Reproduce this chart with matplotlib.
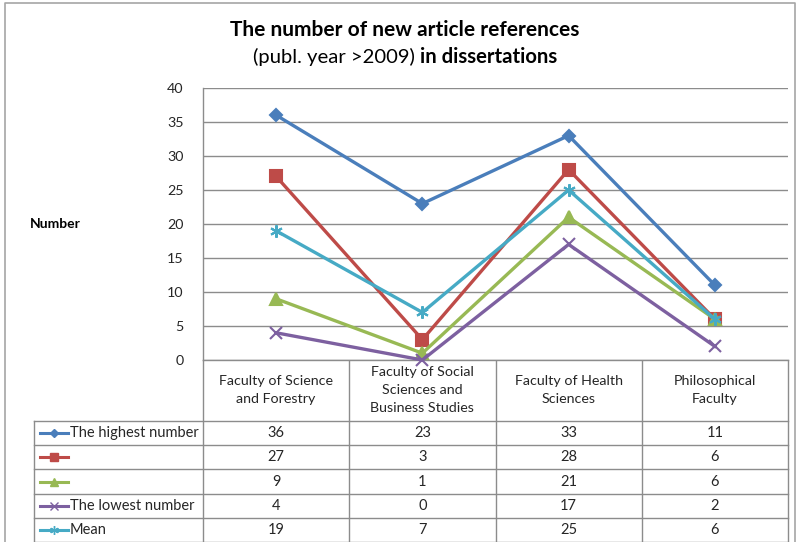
import matplotlib
matplotlib.use("Agg")
import matplotlib.pyplot as plt
from matplotlib.lines import Line2D

plt.rcParams['font.family'] = ['Lato', 'DejaVu Sans']

categories = ["Faculty of Science\nand Forestry",
              "Faculty of Social\nSciences and\nBusiness Studies",
              "Faculty of Health\nSciences",
              "Philosophical\nFaculty"]
series_names = ["The highest number", "", "", "The lowest number", "Mean"]
highest = [36, 23, 33, 11]
second = [27, 3, 28, 6]
third = [9, 1, 21, 6]
lowest = [4, 0, 17, 2]
mean = [19, 7, 25, 6]
series_values = [highest, second, third, lowest, mean]
y_ticks = [0, 5, 10, 15, 20, 25, 30, 35, 40]

colors = ["#4A7EBB", "#BE4B48", "#98B954", "#7D60A0", "#46AAC5"]
markers = ["D", "s", "^", "x", (6, 2, 0)]
msizes = [6, 9, 8, 8, 9]

W, H = 798, 542
fig = plt.figure(figsize=(W / 100, H / 100), dpi=100)

# plot area in pixel coordinates
px_left, px_right, px_top, px_bottom = 203, 788, 88, 360
ax = fig.add_axes([px_left / W, 1 - px_bottom / H,
                   (px_right - px_left) / W, (px_bottom - px_top) / H])
ax.set_xlim(-0.5, len(categories) - 0.5)
ax.set_ylim(0, 40)
ax.set_yticks(y_ticks)
ax.set_xticks([])
ax.tick_params(axis='y', length=0, pad=14, labelsize=10.3, labelcolor="#262626")
ax.grid(axis='y', color="#8C8C8C", linewidth=1.0)
ax.set_axisbelow(True)
for s in ["top", "right"]:
    ax.spines[s].set_visible(False)
for s in ["left", "bottom"]:
    ax.spines[s].set_color("#8C8C8C")
    ax.spines[s].set_linewidth(1.0)

xs = list(range(len(categories)))
for vals, c, m, ms in zip(series_values, colors, markers, msizes):
    ax.plot(xs, vals, color=c, linewidth=2.4, marker=m, markersize=ms,
            markerfacecolor=c, markeredgecolor=c, markeredgewidth=1.5,
            clip_on=False, zorder=3)

# overlay in pixel coordinates for titles and the data table
ov = fig.add_axes([0, 0, 1, 1], zorder=-1)
ov.set_xlim(0, W)
ov.set_ylim(H, 0)
ov.axis("off")

ov.text(W / 2 + 6, 30, "The number of new article references", ha="center",
        va="center", fontsize=15, fontweight="bold", color="#000000")

# second title line: normal part followed by a bold part, centred together
renderer = fig.canvas.get_renderer()
part1 = ov.text(0, 57, "(publ. year >2009) ", ha="left", va="center",
                fontsize=14.6, color="#000000")
part2 = ov.text(0, 57, "in dissertations", ha="left", va="center",
                fontsize=14.6, fontweight="bold", color="#000000")
w1 = part1.get_window_extent(renderer).width
w2 = part2.get_window_extent(renderer).width
start = W / 2 + 6 - (w1 + w2) / 2
part1.set_x(start)
part2.set_x(start + w1)

ov.text(30, 224, "Number", ha="left", va="center", fontsize=10,
        fontweight="bold", color="#000000")

# figure frame
ov.plot([5, 5, 795, 795], [545, 3, 3, 545], color="#A6A6A6", linewidth=1.2)

grid_c = "#8C8C8C"
cell_w = (px_right - px_left) / len(categories)
bounds = [px_left + i * cell_w for i in range(len(categories) + 1)]
table_left = 34
row_top = 421
row_h = 24.2
n_rows = len(series_values)
table_bottom = row_top + n_rows * row_h

# vertical lines
for b in bounds:
    ov.plot([b, b], [px_bottom, table_bottom], color=grid_c, linewidth=1.0)
ov.plot([table_left, table_left], [row_top, table_bottom], color=grid_c, linewidth=1.0)
# horizontal lines
for r in range(n_rows + 1):
    y = row_top + r * row_h
    ov.plot([table_left, px_right], [y, y], color=grid_c, linewidth=1.0)

# category header cells
for i, cat in enumerate(categories):
    cx = (bounds[i] + bounds[i + 1]) / 2
    ov.text(cx, 390, cat, ha="center", va="center", fontsize=10.3,
            linespacing=1.55, color="#262626")

# data rows with legend keys
for r, (name, vals, c, m, ms) in enumerate(zip(series_names, series_values,
                                                colors, markers, msizes)):
    cy = row_top + (r + 0.5) * row_h
    ov.add_line(Line2D([40, 68], [cy, cy], color=c, linewidth=2.2))
    ov.plot([54], [cy], marker=m, markersize=ms * 0.7, color=c,
            markeredgecolor=c, markeredgewidth=1.0)
    ov.text(70, cy, name, ha="left", va="center", fontsize=10.5, color="#262626")
    for i, v in enumerate(vals):
        cx = (bounds[i] + bounds[i + 1]) / 2
        ov.text(cx, cy, str(v), ha="center", va="center", fontsize=10.5,
                color="#262626")

fig.savefig("out.png", dpi=100, facecolor="white")
